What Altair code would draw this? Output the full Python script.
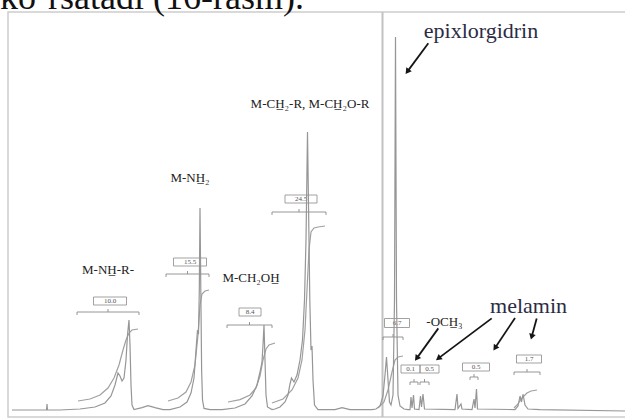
import math
import altair as alt
import pandas as pd

# ---------------- data ----------------
# 1H NMR trace (chemical shift in ppm, relative intensity)
spec_ppm = [9.808, 9.296, 9.256, 9.248, 9.24, 9.04, 8.72, 8.48, 8.32, 8.224, 8.16, 8.112, 8.08, 8.048,
            8.016, 7.984, 7.96, 7.936, 7.92, 7.904, 7.888, 7.856, 7.728, 7.632, 7.52, 7.392,
            7.28, 7.12, 7.008, 6.944, 6.896, 6.864, 6.84, 6.824, 6.811, 6.8, 6.787, 6.774, 6.76,
            6.736, 6.64, 6.448, 6.24, 6.08, 5.968, 5.888, 5.84, 5.808, 5.792, 5.776, 5.76, 5.744,
            5.72, 5.648, 5.6, 5.52, 5.44, 5.392, 5.36, 5.336, 5.296, 5.248, 5.2, 5.16, 5.128,
            5.104, 5.08, 5.056, 5.043, 5.024, 5.008, 4.992, 4.968, 4.912, 4.64, 4.528, 4.4,
            4.048, 3.984, 3.92, 3.872, 3.84, 3.816, 3.792, 3.768, 3.744, 3.712, 3.688, 3.672,
            3.656, 3.632, 3.6, 3.536, 3.472, 3.44, 3.424, 3.408, 3.384, 3.368, 3.296, 3.272,
            3.256, 3.232, 3.208, 2.72, 2.688, 2.672, 2.624, 2.608, 2.448, 2.416, 2.4, 2.376,
            2.36, 1.76, 1.712, 1.68, 1.656, 1.632, 1.6, 1.552, 1.36, 0.0]
spec_int = [0, 0, 0, 1.5, 0, 0, 0.25, 0.75, 1.75, 3.5, 6.25, 9.25, 8.5, 7.25,
            8, 12.5, 18.75, 22.5, 16.25, 6.25, 1.25, 0.1, 0.6, 1.1, 0.6, 0.1,
            0.1, 0.75, 2, 4.25, 8, 15, 20, 19, 30, 50.5, 30, 10, 2.5,
            0.4, 0.1, 0.1, 0.5, 1.5, 3.5, 6.25, 9.5, 12, 16.25, 21.25, 12.5, 3.75,
            0.75, 0.1, 0.25, 0.75, 2, 3.75, 6.5, 8, 7, 8.75, 12.5, 17.5, 27.5,
            42.5, 69.5, 42.5, 27.5, 15, 16, 7.5, 1.25, 0.1, 0.1, 0.6, 0.1,
            0.1, 0.25, 1, 3.5, 8.75, 13.25, 7.5, 2, 1.25, 3.75, 27.5, 93.25,
            27.5, 3.75, 1, 0.25, 0.1, 0.1, 3.25, 0.5, 3.75, 0.25, 0.1, 3.5,
            0.75, 4, 0.25, 0.1, 4, 0.4, 1.5, 0.25, 0.1, 2.75, 0.5, 5.25,
            0.25, 0.1, 1, 3.5, 2, 4, 1.25, 0.25, 0.1, -0.25]

# integral curves
integral_ppm = [
    [8.752, 8.56, 8.4, 8.272, 8.176, 8.096, 8.032, 7.984, 7.936, 7.888, 7.792],
    [7.312, 7.152, 7.024, 6.944, 6.88, 6.832, 6.8, 6.768, 6.72, 6.656],
    [6.352, 6.16, 6.0, 5.904, 5.84, 5.792, 5.744, 5.696, 5.6],
    [5.648, 5.472, 5.328, 5.232, 5.168, 5.12, 5.088, 5.056, 5.024, 4.976, 4.912, 4.8],
    [3.952, 3.856, 3.792, 3.728, 3.68, 3.632, 3.552],
    [1.776, 1.712, 1.664, 1.616, 1.568, 1.504, 1.408],
]
integral_val = [
    [2.25, 2.75, 3.75, 5.5, 8, 11.25, 15, 17.5, 19.25, 20, 20.25],
    [2.25, 3, 4.5, 7, 11.25, 18.75, 26.25, 29, 29.75, 30],
    [2, 2.6, 3.75, 5.5, 8.5, 12.5, 15.25, 16.25, 16.75],
    [1.75, 2.75, 5, 8, 12.5, 20, 30, 40, 44.5, 45.5, 45.75, 46],
    [0.5, 2, 5, 9.5, 12.5, 13.25, 13.5],
    [0.5, 1.5, 2.75, 3.5, 4.25, 4.75, 5],
]

# integration values with their brackets and boxes
int_label = ["10.0", "15.5", "8.4", "24.5", "6.7", "0.1", "0.5", "0.5", "1.7"]
brk_from = [8.768, 7.344, 6.368, 5.648, 3.872, 3.44, 3.28, 2.48, 1.776]
brk_to = [7.776, 6.656, 5.648, 4.784, 3.552, 3.312, 3.136, 2.352, 1.36]
brk_level = [24.5, 34, 21.25, 49.5, 18.25, 7, 7, 8.25, 9.5]
box_from = [8.504, 7.224, 6.176, 5.44, 3.848, 3.584, 3.28, 2.6, 1.736]
box_to = [7.976, 6.696, 5.824, 4.928, 3.448, 3.28, 2.976, 2.168, 1.336]
box_low = [26.25, 36, 23.5, 51.75, 20.625, 9.25, 9.25, 9.75, 11.75]
box_high = [28.25, 38, 25.5, 53.75, 22.875, 11.25, 11.25, 11.75, 13.75]

# group labels
grp_text = ["M-NH\u0332-R-", "M-NH\u0332\u2082", "M-CH\u2082OH\u0332",
            "M-CH\u0332\u2082-R, M-CH\u0332\u2082O-R", "-OCH\u0332\u2083"]
grp_ppm = [8.272, 6.96, 5.984, 5.04, 2.888]
grp_int = [35, 58, 33.1, 76.5, 22]

# compound annotations
ann_text = ["epixlorgidrin", "melamin"]
ann_ppm = [2.304, 1.544]
ann_int = [93, 24.25]

# arrows (start -> end)
arr_x1 = [3.147, 2.987, 2.133, 1.76, 1.413]
arr_y1 = [91.7, 20.4, 22.9, 23.0, 22.9]
arr_x2 = [3.483, 3.333, 2.987, 2.08, 1.493]
arr_y2 = [84.6, 12.9, 12.9, 15.5, 18.3]

# cropped text line above the figure
top_text = ["ko\u2018rsatadi (16-rasm)."]
top_ppm = [10.0]
top_int = [100.25]

# frame of the scanned figure
frame_x = [9.872]
frame_x2 = [-0.1]
frame_y = [-1.75]
frame_y2 = [99.5]
divider_ppm = [3.88]

# ---------------- chart ----------------
W, H = 625, 419
X_DOM = [0, 10]
Y_DOM = [-2.25, 102.5]
xs = alt.Scale(domain=X_DOM, reverse=True, nice=False, zero=False)
ys = alt.Scale(domain=Y_DOM, nice=False, zero=False)
PX_X = W / (X_DOM[1] - X_DOM[0])
PX_Y = H / (Y_DOM[1] - Y_DOM[0])
SERIF = "Liberation Serif"

spec = pd.DataFrame({"ppm": spec_ppm, "v": spec_int, "i": range(len(spec_ppm))})
rows = []
for g, (px, pv) in enumerate(zip(integral_ppm, integral_val)):
    for k, (a, b) in enumerate(zip(px, pv)):
        rows.append({"ppm": a, "v": b, "g": g, "i": k})
integ = pd.DataFrame(rows)

brk = pd.DataFrame({"label": int_label, "x1": brk_from, "x2": brk_to, "lvl": brk_level,
                    "b1": box_from, "b2": box_to, "bl": box_low, "bh": box_high})
brk["mid"] = (brk.x1 + brk.x2) / 2
brk["bmid"] = (brk.b1 + brk.b2) / 2
brk["bcy"] = (brk.bl + brk.bh) / 2
ticks = []
for _, r in brk.iterrows():
    ticks.append({"x": r.x1, "y": r.lvl, "y2": r.lvl - 0.75})
    ticks.append({"x": r.x2, "y": r.lvl, "y2": r.lvl - 0.75})
    ticks.append({"x": r.mid, "y": r.lvl, "y2": r.lvl + 0.75})
ticks = pd.DataFrame(ticks)

grp = pd.DataFrame({"t": grp_text, "x": grp_ppm, "y": grp_int})
ann = pd.DataFrame({"t": ann_text, "x": ann_ppm, "y": ann_int})
arr = pd.DataFrame({"x1": arr_x1, "y1": arr_y1, "x2": arr_x2, "y2": arr_y2})
arr["ang"] = [
    (math.degrees(math.atan2(-(b - a) * PX_X, (d - c) * PX_Y)) + 360) % 360
    for a, b, c, d in zip(arr.x1, arr.x2, arr.y1, arr.y2)
]
top = pd.DataFrame({"t": top_text, "x": top_ppm, "y": top_int})
frame = pd.DataFrame({"x": frame_x, "x2": frame_x2, "y": frame_y, "y2": frame_y2})
div = pd.DataFrame({"x": divider_ppm, "y": frame_y, "y2": frame_y2})

frame_l = alt.Chart(frame).mark_rect(filled=False, stroke="#cdcdcd", strokeWidth=1.5).encode(
    x=alt.X("x:Q", scale=xs, axis=None), x2="x2:Q",
    y=alt.Y("y:Q", scale=ys, axis=None), y2="y2:Q")
div_l = alt.Chart(div).mark_rule(color="#c2c2c2", strokeWidth=2).encode(
    x=alt.X("x:Q", scale=xs), y=alt.Y("y:Q", scale=ys), y2="y2:Q")

box_l = alt.Chart(brk).mark_rect(filled=False, stroke="#8a8a8a", strokeWidth=0.8).encode(
    x=alt.X("b1:Q", scale=xs), x2="b2:Q", y=alt.Y("bl:Q", scale=ys), y2="bh:Q")
box_t = alt.Chart(brk).mark_text(font=SERIF, fontSize=7, color="#555", baseline="middle").encode(
    x=alt.X("bmid:Q", scale=xs), y=alt.Y("bcy:Q", scale=ys), text="label:N")
brk_l = alt.Chart(brk).mark_rule(color="#8a8a8a", strokeWidth=0.9).encode(
    x=alt.X("x1:Q", scale=xs), x2="x2:Q", y=alt.Y("lvl:Q", scale=ys))
tick_l = alt.Chart(ticks).mark_rule(color="#8a8a8a", strokeWidth=0.9).encode(
    x=alt.X("x:Q", scale=xs), y=alt.Y("y:Q", scale=ys), y2="y2:Q")

integ_l = alt.Chart(integ).mark_line(color="#a0a0a0", strokeWidth=1.2).encode(
    x=alt.X("ppm:Q", scale=xs), y=alt.Y("v:Q", scale=ys), detail="g:N", order="i:Q")
spec_l = alt.Chart(spec).mark_line(color="#969696", strokeWidth=1.2).encode(
    x=alt.X("ppm:Q", scale=xs), y=alt.Y("v:Q", scale=ys), order="i:Q")

grp_l = alt.Chart(grp).mark_text(font=SERIF, fontSize=13, color="#222", baseline="middle").encode(
    x=alt.X("x:Q", scale=xs), y=alt.Y("y:Q", scale=ys), text="t:N")
ann_l = alt.Chart(ann).mark_text(font=SERIF, fontSize=22, color="#2b2b45", baseline="alphabetic").encode(
    x=alt.X("x:Q", scale=xs), y=alt.Y("y:Q", scale=ys), text="t:N")
arr_l = alt.Chart(arr).mark_rule(color="#151515", strokeWidth=1.8).encode(
    x=alt.X("x1:Q", scale=xs), x2="x2:Q", y=alt.Y("y1:Q", scale=ys), y2="y2:Q")
head_l = alt.Chart(arr).mark_point(shape="triangle-up", filled=True, color="#151515",
                                   size=45, opacity=1).encode(
    x=alt.X("x2:Q", scale=xs), y=alt.Y("y2:Q", scale=ys), angle=alt.Angle("ang:Q", scale=None))
top_l = alt.Chart(top).mark_text(font=SERIF, fontSize=36, color="#111", align="left",
                                 baseline="alphabetic").encode(
    x=alt.X("x:Q", scale=xs), y=alt.Y("y:Q", scale=ys), text="t:N")

chart = alt.layer(frame_l, div_l, box_l, box_t, brk_l, tick_l, integ_l, spec_l,
                  grp_l, ann_l, arr_l, head_l, top_l).properties(
    width=W, height=H, autosize=alt.AutoSizeParams(type="none"), padding=0,
    background="white").configure_view(stroke=None)

chart.save("out.html", embed_options={"renderer": "svg", "actions": False})
